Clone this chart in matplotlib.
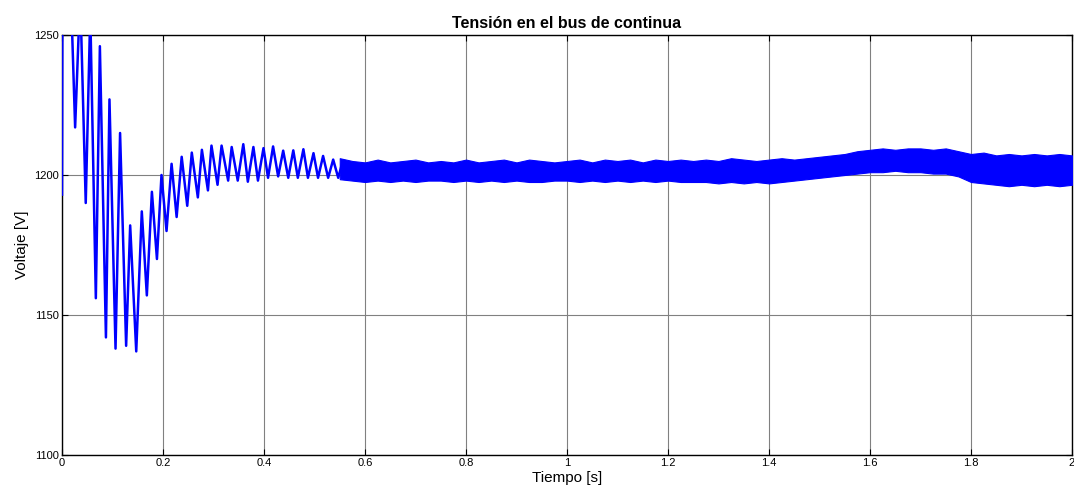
import matplotlib
matplotlib.use("Agg")
import matplotlib.pyplot as plt

# Transient: alternating peaks / troughs (s, V)
t_transient = [0.000, 0.001, 0.015, 0.026, 0.036, 0.047, 0.056, 0.067, 0.075, 0.087,
               0.094, 0.106, 0.115, 0.127, 0.135, 0.147, 0.158, 0.168, 0.178, 0.188,
               0.197, 0.207, 0.217, 0.227, 0.237, 0.248, 0.257, 0.269, 0.277, 0.289,
               0.296, 0.308, 0.316, 0.329, 0.336, 0.348, 0.359, 0.368, 0.379, 0.388,
               0.399, 0.408, 0.418, 0.428, 0.438, 0.448, 0.458, 0.467, 0.478, 0.487,
               0.498, 0.507, 0.517, 0.527, 0.537, 0.547, 0.556]
v_transient = [1193, 1280, 1280, 1217, 1265, 1190, 1258, 1156, 1246, 1142,
               1227, 1138, 1215, 1139, 1182, 1137, 1187, 1157, 1194, 1170,
               1200, 1180, 1204, 1185, 1206.5, 1189, 1208, 1192, 1209, 1194.5,
               1210.5, 1196.5, 1210.5, 1198, 1210, 1198, 1211, 1197.6, 1210, 1198,
               1209.6, 1199, 1210.2, 1199.5, 1208.7, 1199, 1208.8, 1199, 1209.2, 1199,
               1207.8, 1199, 1206.8, 1199, 1205.5, 1199, 1205]

# Steady-state ripple band: upper / lower envelope (s, V)
t_band = [0.550, 0.575, 0.600, 0.625, 0.650, 0.675, 0.700, 0.725, 0.750, 0.775,
          0.800, 0.825, 0.850, 0.875, 0.900, 0.925, 0.950, 0.975, 1.000, 1.025,
          1.050, 1.075, 1.100, 1.125, 1.150, 1.175, 1.200, 1.225, 1.250, 1.275,
          1.300, 1.325, 1.350, 1.375, 1.400, 1.425, 1.450, 1.475, 1.500, 1.525,
          1.550, 1.575, 1.600, 1.625, 1.650, 1.675, 1.700, 1.725, 1.750, 1.775,
          1.800, 1.825, 1.850, 1.875, 1.900, 1.925, 1.950, 1.975, 2.000]
v_upper = [1206, 1205, 1204.5, 1205.5, 1204.5, 1205, 1205.5, 1204.5, 1205, 1204.5,
           1205.5, 1204.5, 1205, 1205.5, 1204.5, 1205.5, 1205, 1204.5, 1205, 1205.5,
           1204.5, 1205.5, 1205, 1205.5, 1204.5, 1205.5, 1205, 1205.5, 1205, 1205.5,
           1205, 1206, 1205.5, 1205, 1205.5, 1206, 1205.5, 1206, 1206.5, 1207,
           1207.5, 1208.5, 1209, 1209.5, 1209, 1209.5, 1209.5, 1209, 1209.5, 1208.5,
           1207.5, 1208, 1207, 1207.5, 1207, 1207.5, 1207, 1207.5, 1207]
v_lower = [1198.5, 1198, 1197.5, 1198, 1197.5, 1198, 1197.5, 1198, 1198, 1197.5,
           1198, 1197.5, 1198, 1197.5, 1198, 1197.5, 1197.5, 1198, 1198, 1197.5,
           1198, 1197.5, 1198, 1197.5, 1198, 1197.5, 1198, 1197.5, 1197.5, 1197.5,
           1197, 1197.5, 1197, 1197.5, 1197, 1197.5, 1198, 1198.5, 1199, 1199.5,
           1200, 1200.5, 1201, 1201, 1201.5, 1201, 1201, 1200.5, 1200.5, 1199.5,
           1197.5, 1197, 1196.5, 1196, 1196.5, 1196, 1196.5, 1196, 1196.5]

x_ticks = [0, 0.2, 0.4, 0.6, 0.8, 1.0, 1.2, 1.4, 1.6, 1.8, 2.0]
x_tick_labels = ["0", "0.2", "0.4", "0.6", "0.8", "1", "1.2", "1.4", "1.6", "1.8", "2"]
y_ticks = [1100, 1150, 1200, 1250]

plt.rcParams['font.family'] = ['Liberation Sans', 'DejaVu Sans']

fig = plt.figure(figsize=(10.74, 4.94), dpi=100)
ax = fig.add_axes([62/1074, 39/494, 1010/1074, 420/494])

blue = '#0000ff'
ax.plot(t_transient, v_transient, color=blue, lw=1.8, zorder=3)
ax.fill_between(t_band, v_lower, v_upper, color=blue, lw=0.8, edgecolor=blue, zorder=3)

ax.set_xlim(0, 2)
ax.set_ylim(1100, 1250)
ax.set_xticks(x_ticks)
ax.set_xticklabels(x_tick_labels)
ax.set_yticks(y_ticks)
ax.grid(True, color='#808080', lw=0.8, ls='-')
ax.set_axisbelow(True)
ax.tick_params(direction='in', top=True, right=True, labelsize=8, length=4, width=0.8, pad=2)
for s in ax.spines.values():
    s.set_linewidth(1.0)
    s.set_color('black')

ax.set_title('Tensión en el bus de continua', fontsize=11.5, fontweight='bold', pad=5)
ax.set_xlabel('Tiempo [s]', fontsize=11, labelpad=2)
ax.set_ylabel('Voltaje [V]', fontsize=11, labelpad=4)

fig.savefig('out.png', dpi=100)
